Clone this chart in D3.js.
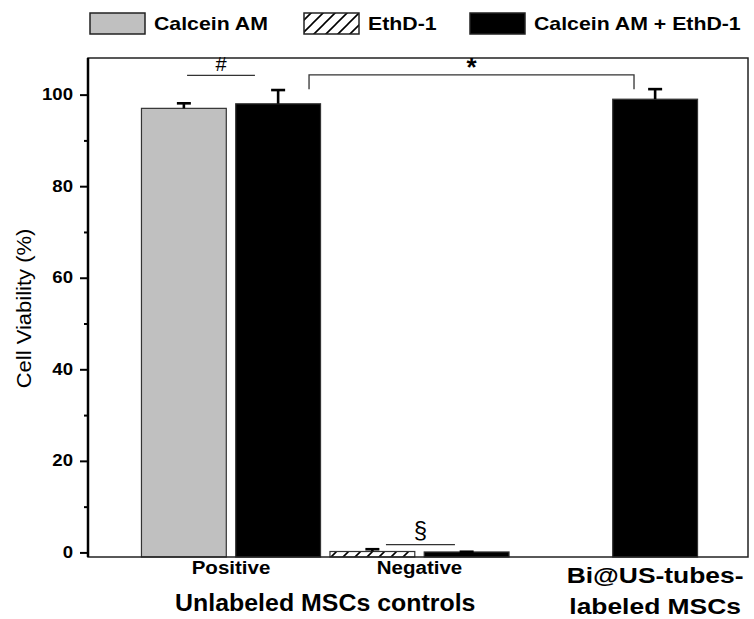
<!DOCTYPE html>
<html>
<head>
<meta charset="utf-8">
<script src="https://cdn.jsdelivr.net/npm/d3@7"></script>
<style>
  body { margin: 0; background: #fff; }
  svg { display: block; }
  text { font-family: "Liberation Sans", Arial, sans-serif; fill: #000; }
</style>
</head>
<body>
<svg width="754" height="619"></svg>
<script>
// ---- data ----
const groups = ["Positive", "Negative", "Bi@US"];
const groupLabels = ["Positive", "Negative", ""];
const seriesNames = ["Calcein AM", "EthD-1", "Calcein AM + EthD-1"];
const calceinValues = [97, null, null];
const calceinErrors = [1.1, null, null];
const ethdValues = [null, 0.2, null];
const ethdErrors = [null, 0.5, null];
const combinedValues = [98, 0.1, 99];
const combinedErrors = [3, 0.05, 2.2];
const yMajorTicks = [0, 20, 40, 60, 80, 100];
const yMinorTicks = [10, 30, 50, 70, 90];
const yDomain = [-1, 108];

// significance marks (group, start/end as fraction of the group band, y in %)
const sigLabels = ["#", "*", "§"];
const sigLines = [
  { g0: 0, f0: 0.267, g1: 0, f1: 0.627, v: 104.2, legs: null },
  { g0: 0, f0: 0.914, g1: 2, f1: 0.638, v: 104.3, legs: 101.2 },
  { g0: 1, f0: 0.322, g1: 1, f1: 0.688, v: 1.7, legs: null }
];
// label style per mark: size, weight, font, vertical shift
const sigStyle = [
  { size: 20, weight: "normal", font: "DejaVu Sans, sans-serif", dy: -4 },
  { size: 26, weight: "bold", font: "Liberation Sans, Arial, sans-serif", dy: 1 },
  { size: 24, weight: "normal", font: "DejaVu Sans, sans-serif", dy: -7 }
];

const svg = d3.select("svg");
const plot = { left: 88, right: 748, top: 58, bottom: 557 };

// stretch text horizontally (the source figure uses a wide face)
function stretch(sel, k) {
  sel.each(function () {
    const w = this.getComputedTextLength();
    d3.select(this).attr("textLength", w * k).attr("lengthAdjust", "spacingAndGlyphs");
  });
}

const x = d3.scaleBand().domain(groups).range([136.75, 702.25]).padding(0);
const slot = d3.scaleBand().domain(["left", "right"]).range([0, x.bandwidth()])
  .paddingInner(0.1).paddingOuter(0.05);
const y = d3.scaleLinear().domain(yDomain).range([plot.bottom, plot.top]);

// hatch pattern
const defs = svg.append("defs");
const pat = defs.append("pattern").attr("id", "hatch")
  .attr("patternUnits", "userSpaceOnUse").attr("width", 12).attr("height", 12);
pat.append("rect").attr("width", 12).attr("height", 12).attr("fill", "#fff");
pat.append("path").attr("d", "M-3,3 L3,-3 M0,12 L12,0 M9,15 L15,9")
  .attr("stroke", "#000").attr("stroke-width", 1.6);

const fills = ["#c0c0c0", "url(#hatch)", "#000"];

function rows(values, errors, s, sl) {
  return groups.map((g, i) => ({ g, v: values[i], e: errors[i], s, sl }))
    .filter(d => d.v !== null);
}
const barData = [
  ...rows(calceinValues, calceinErrors, 0, "left"),
  ...rows(ethdValues, ethdErrors, 1, "left"),
  ...rows(combinedValues, combinedErrors, 2, "right")
];

// bars
svg.append("g").selectAll("rect").data(barData).join("rect")
  .attr("x", d => x(d.g) + slot(d.sl))
  .attr("width", slot.bandwidth())
  .attr("y", d => y(d.v))
  .attr("height", d => y(yDomain[0]) - y(d.v))
  .attr("fill", d => fills[d.s])
  .attr("stroke", "#333")
  .attr("stroke-width", 1.2);

// error bars (upper only)
const eb = svg.append("g").attr("stroke", "#000").attr("stroke-width", 2.6);
barData.forEach(d => {
  const cx = x(d.g) + slot(d.sl) + slot.bandwidth() / 2;
  eb.append("line").attr("x1", cx).attr("x2", cx).attr("y1", y(d.v)).attr("y2", y(d.v + d.e));
  eb.append("line").attr("x1", cx - 7).attr("x2", cx + 7).attr("y1", y(d.v + d.e)).attr("y2", y(d.v + d.e));
});

// frame
svg.append("rect")
  .attr("x", plot.left).attr("y", plot.top)
  .attr("width", plot.right - plot.left).attr("height", plot.bottom - plot.top)
  .attr("fill", "none").attr("stroke", "#222").attr("stroke-width", 1.5);

// y axis
const yAxis = svg.append("g").attr("transform", `translate(${plot.left},0)`)
  .call(d3.axisLeft(y).tickValues(yMajorTicks).tickSize(8).tickPadding(7));
yAxis.select(".domain").attr("stroke-width", 2.5).attr("d", `M0,${plot.top}V${plot.bottom}`);
yAxis.selectAll(".tick line").attr("stroke-width", 2);
yAxis.selectAll(".tick text").attr("font-size", 16).attr("font-weight", "bold")
  .attr("font-family", "Liberation Sans, Arial, sans-serif").call(stretch, 1.16);
svg.append("g").attr("transform", `translate(${plot.left},0)`)
  .call(d3.axisLeft(y).tickValues(yMinorTicks).tickSize(4).tickFormat(""))
  .call(g => g.select(".domain").remove())
  .selectAll(".tick line").attr("stroke-width", 2);

svg.append("text")
  .attr("transform", `translate(31,${(plot.top + plot.bottom) / 2 + 1}) rotate(-90)`)
  .attr("text-anchor", "middle").attr("font-size", 20)
  .text("Cell Viability (%)").call(stretch, 1.1);

// x axis labels
const xAxis = svg.append("g").attr("transform", `translate(0,${plot.bottom})`)
  .call(d3.axisBottom(x).tickSize(0).tickPadding(0).tickFormat((d, i) => groupLabels[i]));
xAxis.select(".domain").remove();
xAxis.selectAll(".tick text").attr("font-size", 18).attr("font-weight", "bold")
  .attr("font-family", "Liberation Sans, Arial, sans-serif")
  .attr("dy", 17).call(stretch, 1.14);

svg.append("text")
  .attr("x", (x(groups[0]) + x(groups[1]) + x.bandwidth()) / 2).attr("y", 611)
  .attr("text-anchor", "middle").attr("font-size", 23.5).attr("font-weight", "bold")
  .text("Unlabeled MSCs controls").call(stretch, 1.06);

const bx = x(groups[2]) + slot("right") + slot.bandwidth() / 2;
svg.append("text").attr("x", bx).attr("y", 583)
  .attr("text-anchor", "middle").attr("font-size", 22).attr("font-weight", "bold")
  .text("Bi@US-tubes-").call(stretch, 1.2);
svg.append("text").attr("x", bx).attr("y", 614)
  .attr("text-anchor", "middle").attr("font-size", 22).attr("font-weight", "bold")
  .text("labeled MSCs").call(stretch, 1.2);

// significance marks
const px = (g, f) => x(groups[g]) + f * x.step();
const sig = svg.append("g");
sigLines.forEach((s, i) => {
  const x0 = px(s.g0, s.f0), x1 = px(s.g1, s.f1);
  const path = s.legs === null
    ? `M${x0},${y(s.v)}H${x1}`
    : `M${x0},${y(s.legs)}V${y(s.v)}H${x1}V${y(s.legs)}`;
  sig.append("path").attr("d", path).attr("fill", "none")
    .attr("stroke", "#333").attr("stroke-width", 1.3);
  const st = sigStyle[i];
  sig.append("text").attr("x", (x0 + x1) / 2)
    .attr("y", y(s.v) + st.dy)
    .attr("text-anchor", "middle")
    .attr("font-size", st.size)
    .attr("font-weight", st.weight)
    .attr("font-family", st.font)
    .text(sigLabels[i]);
});

// legend
const legendX = [90, 304, 470];
const legend = svg.append("g");
seriesNames.forEach((name, i) => {
  legend.append("rect").attr("x", legendX[i]).attr("y", 13)
    .attr("width", 55).attr("height", 21)
    .attr("fill", fills[i]).attr("stroke", "#222").attr("stroke-width", 1.5);
  legend.append("text").attr("x", legendX[i] + 64).attr("y", 30)
    .attr("font-size", 18.5).attr("font-weight", "bold")
    .text(name).call(stretch, 1.15);
});
</script>
</body>
</html>
